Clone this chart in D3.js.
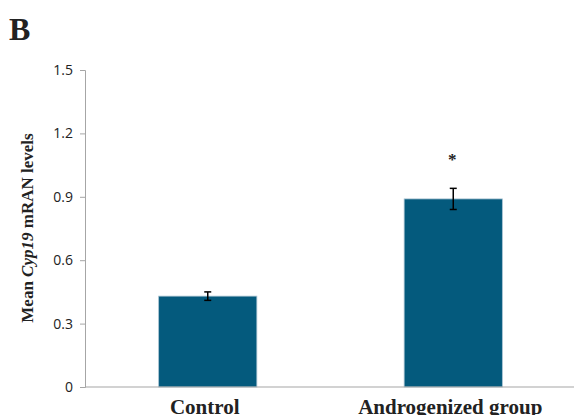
<!DOCTYPE html>
<html><head><meta charset="utf-8">
<script src="https://cdn.jsdelivr.net/npm/d3@7"></script>
<style>body{margin:0;background:#fff}svg{display:block}</style>
</head><body>
<svg id="c" width="574" height="415"></svg>
<script>
const categories = ["Control", "Androgenized group"];
const means = [0.43, 0.89];
const errors = [0.02, 0.05];
const significance = ["", "*"];
const yTicks = [0, 0.3, 0.6, 0.9, 1.2, 1.5];
const yTickLabels = ["0", "0.3", "0.6", "0.9", "1.2", "1.5"];

const svg = d3.select("#c");
const m = {left: 85, right: -2, top: 70, bottom: 28};
const W = 574, H = 415;
const x = d3.scaleBand().domain(categories).range([m.left, W - m.right]).paddingInner(0.6).paddingOuter(0.3);
const y = d3.scaleLinear().domain([0, 1.5]).range([H - m.bottom, m.top]);

// y axis
const ya = svg.append("g").attr("transform", `translate(${m.left},0)`)
  .call(d3.axisLeft(y).tickValues(yTicks).tickFormat((d,i)=>yTickLabels[i]).tickSize(5).tickPadding(7));
ya.select(".domain").attr("stroke", "#a6a6a6");
ya.selectAll(".tick line").attr("stroke", "#a6a6a6");
ya.selectAll(".tick text").attr("fill", "#222").attr("font-family", "Open Sans, Liberation Sans, Arial, sans-serif").attr("font-size", 14);

// bars
svg.selectAll("rect.bar").data(categories).join("rect").attr("class","bar")
  .attr("x", d => x(d)).attr("width", x.bandwidth())
  .attr("y", (d,i) => y(means[i])).attr("height", (d,i) => y(0) - y(means[i]))
  .attr("fill", "#045a7d").attr("stroke", "#a9c3d2").attr("stroke-width", 0.8);

// x axis line
svg.append("line").attr("x1", m.left).attr("x2", W).attr("y1", y(0)).attr("y2", y(0))
  .attr("stroke", "#a6a6a6").attr("stroke-width", 1.2);

// error bars
const eb = svg.selectAll("g.err").data(categories).join("g").attr("class","err")
  .attr("stroke", "#000").attr("stroke-width", 1.5);
eb.append("line").attr("x1", d => x(d)+x.bandwidth()/2).attr("x2", d => x(d)+x.bandwidth()/2)
  .attr("y1", (d,i) => y(means[i]+errors[i])).attr("y2", (d,i) => y(means[i]-errors[i]));
eb.append("line").attr("x1", d => x(d)+x.bandwidth()/2-3.5).attr("x2", d => x(d)+x.bandwidth()/2+3.5)
  .attr("y1", (d,i) => y(means[i]+errors[i])).attr("y2", (d,i) => y(means[i]+errors[i]));
eb.append("line").attr("x1", d => x(d)+x.bandwidth()/2-3.5).attr("x2", d => x(d)+x.bandwidth()/2+3.5)
  .attr("y1", (d,i) => y(means[i]-errors[i])).attr("y2", (d,i) => y(means[i]-errors[i]));

// significance
svg.selectAll("text.sig").data(categories).join("text").attr("class","sig")
  .attr("x", d => x(d)+x.bandwidth()/2 - 1).attr("y", (d,i) => y(means[i]+errors[i]) - 23)
  .attr("text-anchor","middle").attr("font-family","Liberation Serif, serif").attr("font-size", 17)
  .attr("font-weight","bold").attr("fill","#222").text((d,i)=>significance[i]);

// x labels
svg.selectAll("text.xl").data(categories).join("text").attr("class","xl")
  .attr("x", d => x(d)+x.bandwidth()/2 - 3).attr("y", 414)
  .attr("text-anchor","middle").attr("font-family","Liberation Serif, Times New Roman, serif")
  .attr("font-weight","bold").attr("font-size", 21).attr("fill","#222").text(d=>d);

// y label
const yl = svg.append("text").attr("transform","translate(33,228) rotate(-90)")
  .attr("text-anchor","middle").attr("font-family","Liberation Serif, Times New Roman, serif")
  .attr("font-weight","bold").attr("font-size", 17).attr("fill","#222");
yl.append("tspan").text("Mean  ");
yl.append("tspan").attr("font-style","italic").text("Cyp19 ");
yl.append("tspan").text("mRAN levels");

// panel letter
svg.append("text").attr("x", 9).attr("y", 40).attr("font-family","Liberation Serif, Times New Roman, serif")
  .attr("font-weight","bold").attr("font-size", 32).attr("fill","#222").text("B");
</script>
</body></html>
